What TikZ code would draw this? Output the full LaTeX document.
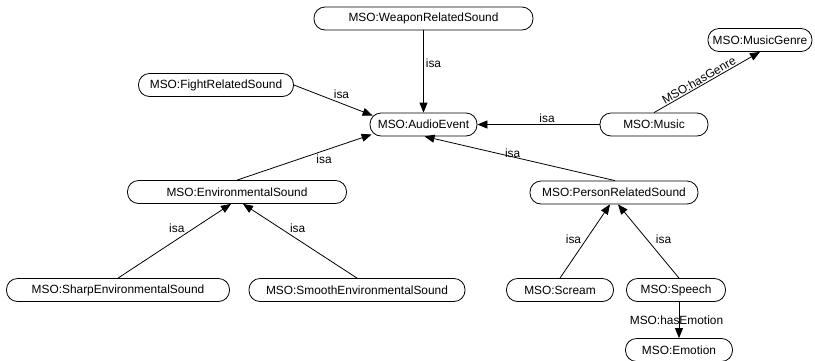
\documentclass[tikz,border=0pt]{standalone}
\usepackage{fontspec}
\setmainfont{Liberation Sans}
\usetikzlibrary{arrows.meta}

\begin{document}
\begin{tikzpicture}[
  x=1pt, y=-1pt,
  concept/.style={draw, rounded corners=11pt, minimum height=23pt,
                  inner xsep=0pt, align=center, line width=0.8pt,
                  font=\fontsize{11.9}{14}\selectfont},
  isa/.style={-{Triangle[length=10pt,width=8pt]}, line width=0.8pt},
  lbl/.style={inner sep=1pt, font=\fontsize{11.9}{14}\selectfont},
]
\useasboundingbox (0,0) rectangle (815,360);

% concepts
\node[concept, minimum width=219pt] (weapon) at (423.5,18.5) {MSO:WeaponRelatedSound};
\node[concept, minimum width=107pt] (audio) at (423.5,124.5) {MSO:AudioEvent};
\node[concept, minimum width=155pt] (fight) at (216,85) {MSO:FightRelatedSound};
\node[concept, minimum width=108pt] (music) at (654,124.5) {MSO:Music};
\node[concept, minimum width=104pt] (genre) at (760,40) {MSO:MusicGenre};
\node[concept, minimum width=219pt] (env) at (237,192) {MSO:EnvironmentalSound};
\node[concept, minimum width=168pt] (person) at (614,192.5) {MSO:PersonRelatedSound};
\node[concept, minimum width=223pt] (sharp) at (118,290) {MSO:SharpEnvironmentalSound};
\node[concept, minimum width=216pt] (smooth) at (357,290) {MSO:SmoothEnvironmentalSound};
\node[concept, minimum width=107pt] (scream) at (560,290) {MSO:Scream};
\node[concept, minimum width=99pt] (speech) at (676,290) {MSO:Speech};
\node[concept, minimum width=107pt] (emotion) at (679,350) {MSO:Emotion};

% subclass links
\draw[isa] (weapon) -- node[lbl, pos=0.4, anchor=west, xshift=1pt] {isa} (audio);
\draw[isa] (fight.east) -- node[lbl, pos=0.49, anchor=south west] {isa} ([xshift=3pt,yshift=9pt]audio.west);
\draw[isa] (env.north) -- node[lbl, pos=0.58, anchor=north west] {isa} ([xshift=2pt,yshift=-10pt]audio.west);
\draw[isa] ([xshift=1pt]person.north) -- node[lbl, pos=0.49, anchor=south east] {isa} ([xshift=1pt]audio.south);
\draw[isa] (music) -- node[lbl, pos=0.43, anchor=south] {isa} (audio);
\draw[isa] (sharp.north) -- node[lbl, pos=0.6, anchor=south east] {isa} ([xshift=-6pt]env.south);
\draw[isa] (smooth.north) -- node[lbl, pos=0.6, anchor=south west] {isa} ([xshift=6pt]env.south);
\draw[isa] (scream.north) -- node[lbl, pos=0.45, anchor=south east] {isa} ([xshift=-4pt]person.south);
\draw[isa] ([xshift=3pt]speech.north) -- node[lbl, pos=0.45, anchor=south west, xshift=3pt] {isa} ([xshift=4pt]person.south);

% properties
\draw[isa] (music.north) -- node[lbl, pos=0.45, sloped, above] {MSO:hasGenre} (genre.south);
\draw[isa] ([xshift=3pt]speech.south) -- node[lbl, midway, xshift=-2.5pt] {MSO:hasEmotion} (emotion.north);
\end{tikzpicture}
\end{document}
